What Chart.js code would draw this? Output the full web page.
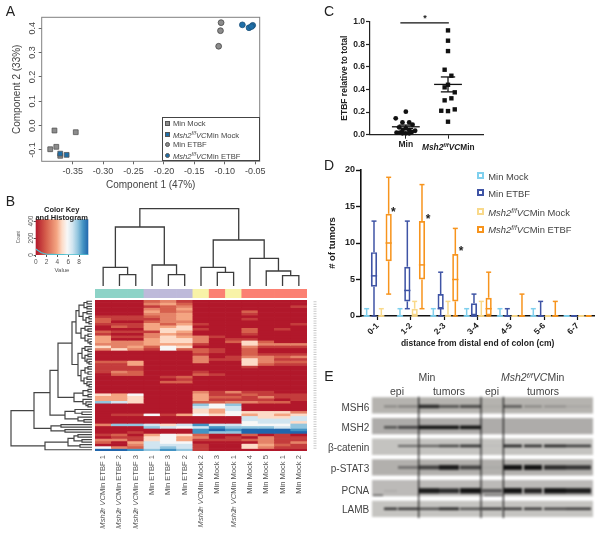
<!DOCTYPE html>
<html>
<head>
<meta charset="utf-8">
<script src="https://cdn.jsdelivr.net/npm/chart.js@4"></script>
<style>
  html, body { margin: 0; padding: 0; background: #fff; width: 602px; height: 537px; overflow: hidden; }
  canvas { position: absolute; filter: blur(0.3px); }
  .t { position: absolute; white-space: nowrap; font-family: "Liberation Sans", Arial, sans-serif; color: #444; filter: blur(0.25px); }
  .t sup { font-size: 0.7em; vertical-align: baseline; position: relative; top: -0.45em; line-height: 0; }
  .mark { position: absolute; box-sizing: border-box; }
</style>
</head>
<body>
<script>
// Panel A: PCA points, [component 1, component 2]
const minMockPoints = [[-0.38, -0.02], [-0.345, -0.027], [-0.377, -0.087], [-0.387, -0.097], [-0.3705, -0.124]]
const mshMockPoints = [[-0.3705, -0.115], [-0.36, -0.12]]
const minEtbfPoints = [[-0.106, 0.423], [-0.107, 0.39], [-0.11, 0.326]]
const mshEtbfPoints = [[-0.071, 0.414], [-0.06, 0.402], [-0.054, 0.412], [-0.056, 0.407]]
const pcaXTicks = [-0.35, -0.3, -0.25, -0.2, -0.15, -0.1, -0.05]
const pcaYTicks = [-0.1, 0, 0.1, 0.2, 0.3, 0.4]

// Panel B: heatmap and dendrograms
const sampleLabels = [
  "msh ETBF 1", "msh ETBF 2", "msh ETBF 3", "Min ETBF 1", "Min ETBF 3", "Min ETBF 2", "msh Mock 2",
  "Min Mock 3", "msh Mock 1", "Min Mock 4", "Min Mock 5", "Min Mock 1", "Min Mock 2",
]
const sampleGroupColors = [
  "#8dd3c7", "#8dd3c7", "#8dd3c7", "#bebada", "#bebada", "#bebada", "#f8f3a8",
  "#fb8072", "#f8f3a8", "#fb8072", "#fb8072", "#fb8072", "#fb8072",
]
const heatColors = ["#b2182b", "#c43c3c", "#d6604d", "#e58368", "#f4a582", "#fddbc7", "#f7f7f7", "#d1e5f0", "#92c5de", "#4393c3", "#2166ac"]
const heatRows = [
  [0, 0, 0, 2, 3, 1, 0, 0, 0, 0, 0, 0, 0],
  [0, 0, 0, 3, 4, 2, 0, 0, 0, 0, 0, 0, 0],
  [0, 0, 0, 1, 2, 3, 0, 0, 0, 0, 0, 0, 1],
  [0, 0, 0, 3, 2, 4, 0, 0, 0, 0, 0, 0, 0],
  [0, 0, 0, 4, 2, 3, 0, 0, 0, 2, 0, 0, 0],
  [0, 0, 0, 3, 3, 4, 0, 0, 0, 1, 0, 0, 0],
  [1, 1, 1, 2, 3, 4, 0, 0, 0, 0, 0, 0, 0],
  [2, 1, 1, 1, 3, 4, 0, 0, 0, 1, 0, 0, 0],
  [2, 0, 0, 2, 3, 3, 0, 0, 0, 0, 0, 0, 0],
  [1, 1, 1, 4, 2, 4, 1, 0, 0, 0, 0, 0, 1],
  [0, 2, 1, 4, 4, 5, 0, 0, 0, 0, 0, 0, 0],
  [0, 0, 0, 4, 5, 5, 1, 0, 0, 2, 0, 1, 0],
  [2, 1, 1, 1, 5, 4, 0, 0, 0, 2, 0, 0, 0],
  [1, 0, 0, 3, 4, 3, 0, 0, 0, 1, 0, 0, 0],
  [4, 1, 1, 3, 5, 4, 3, 1, 0, 0, 0, 0, 0],
  [4, 0, 0, 4, 5, 5, 3, 0, 1, 1, 0, 0, 0],
  [4, 3, 3, 4, 5, 5, 3, 0, 2, 5, 2, 0, 0],
  [3, 3, 3, 4, 4, 4, 1, 0, 0, 5, 3, 3, 3],
  [5, 3, 4, 2, 6, 5, 0, 0, 0, 3, 1, 1, 1],
  [3, 5, 3, 1, 6, 2, 2, 1, 0, 2, 0, 0, 0],
  [0, 0, 0, 0, 0, 0, 2, 1, 0, 2, 0, 0, 0],
  [0, 0, 0, 0, 0, 0, 1, 0, 0, 2, 1, 1, 1],
  [0, 0, 0, 0, 0, 0, 3, 0, 1, 3, 3, 2, 3],
  [0, 0, 0, 0, 0, 0, 3, 1, 1, 5, 3, 1, 1],
  [2, 2, 4, 0, 0, 0, 3, 0, 0, 5, 3, 2, 2],
  [1, 1, 4, 0, 0, 0, 0, 0, 0, 5, 2, 1, 1],
  [1, 1, 1, 0, 0, 0, 0, 0, 0, 1, 0, 0, 0],
  [1, 1, 1, 0, 0, 0, 0, 0, 0, 0, 0, 0, 0],
  [1, 3, 2, 0, 0, 0, 1, 0, 0, 0, 0, 0, 0],
  [0, 2, 2, 0, 0, 0, 2, 1, 0, 0, 0, 0, 0],
  [0, 0, 0, 0, 1, 2, 0, 0, 0, 0, 0, 0, 0],
  [0, 0, 0, 0, 0, 1, 0, 0, 0, 0, 0, 0, 0],
  [0, 0, 0, 0, 2, 2, 0, 0, 0, 0, 0, 0, 0],
  [0, 0, 0, 0, 0, 0, 0, 0, 0, 0, 0, 0, 0],
  [0, 0, 0, 0, 0, 0, 0, 0, 0, 0, 0, 0, 0],
  [0, 0, 0, 0, 0, 0, 0, 0, 0, 0, 0, 0, 0],
  [0, 0, 0, 0, 0, 0, 3, 1, 3, 1, 1, 0, 0],
  [5, 4, 6, 0, 0, 0, 4, 1, 1, 2, 1, 1, 1],
  [4, 4, 5, 0, 0, 0, 4, 2, 2, 1, 3, 1, 1],
  [4, 4, 5, 0, 0, 0, 4, 1, 1, 1, 1, 0, 1],
  [8, 7, 5, 0, 0, 0, 2, 2, 3, 3, 2, 2, 0],
  [0, 0, 0, 0, 0, 0, 8, 6, 8, 0, 0, 0, 0],
  [0, 0, 0, 0, 0, 0, 7, 6, 7, 0, 0, 0, 0],
  [0, 0, 0, 0, 0, 0, 5, 4, 7, 0, 0, 0, 0],
  [0, 0, 0, 0, 0, 0, 5, 4, 6, 5, 5, 5, 3],
  [0, 1, 1, 6, 1, 4, 6, 5, 6, 4, 5, 4, 5],
  [0, 0, 0, 0, 0, 0, 0, 0, 0, 7, 5, 5, 7],
  [0, 0, 0, 0, 0, 0, 0, 0, 0, 7, 7, 7, 7],
  [0, 0, 0, 0, 0, 0, 0, 0, 0, 6, 7, 7, 5],
  [3, 8, 8, 7, 5, 7, 9, 7, 7, 6, 6, 6, 8],
  [0, 0, 0, 8, 7, 6, 7, 9, 8, 8, 8, 7, 8],
  [0, 0, 0, 0, 0, 0, 9, 10, 9, 10, 10, 10, 9],
  [0, 0, 1, 0, 0, 0, 9, 8, 8, 10, 10, 10, 10],
  [1, 2, 0, 4, 6, 5, 2, 0, 0, 2, 0, 1, 0],
  [0, 1, 1, 5, 6, 4, 3, 0, 1, 0, 3, 1, 1],
  [3, 3, 1, 5, 6, 4, 1, 1, 1, 2, 3, 1, 1],
  [2, 0, 4, 7, 6, 6, 0, 0, 0, 0, 3, 1, 3],
  [0, 0, 3, 7, 7, 7, 1, 0, 0, 5, 4, 2, 1],
  [6, 3, 2, 7, 8, 7, 1, 0, 0, 5, 3, 1, 1],
  [10, 10, 9, 8, 9, 8, 1, 0, 0, 0, 0, 0, 0],
]
// [height, child, child], plain numbers are leaves
const columnTree = [77.3,
  [59, [18.7, 0, [11.3, 1, 2]], [21, 3, [11.3, 4, 5]]],
  [46, [18.7, 6, [13.7, 7, 8]], [27.7, 9, [15, 10, [10.3, 11, 12]]]],
]
const rowTree = [81,
  [58,
    [42,
      [34,
        [20,
          [16,
            [13, [8, [5, 0, 1], [5, 2, 3]], [9, [5, 4, 5], [6, [3, 6, 7], [3, 8, 9]]]],
            [11, [7, 10, [4, 11, 12]], [7, [4, 13, 14], [4, 15, [2, 16, 17]]]]],
          [14,
            [10, [7, 18, [4, 19, 20]], [7, [4, 21, 22], [5, 23, [3, 24, 25]]]],
            [11, [7, [4, 26, 27], [4, 28, 29]], [8, [5, 30, 31], [5, 32, [3, 33, 34]]]]]],
        [18, [9, [4, 35, 36], [4, 37, 38]], [9, 39, [6, 40, [4, 41, 42]]]]],
      [27, [17, 43, [10, 44, 45]], [14, 46, [8, 47, 48]]]],
    [41, [31, 49, 50], [27, 51, 52]]],
  [47, [24, [18, [14, 53, 54], [10, 55, 56]], [12, 57, 58]], 59],
]
const keyHistX = [0, 0.5, 1, 1.5, 2, 3, 4, 5, 6, 7, 8, 9, 9.7]
const keyHistY = [70, 50, 30, 18, 10, 7, 5, 4, 3, 2, 2, 1, 1]

// Panel C: ETBF relative to total
const cMinX = [1, 0.76, 0.92, 1.08, 1.16, 0.84, 1, 1.08, 0.92, 0.78, 0.86, 1.22, 1.14, 1, 1.08, 0.92]
const cMinY = [0.204, 0.145, 0.109, 0.109, 0.088, 0.065, 0.056, 0.04, 0.035, 0.018, 0.018, 0.035, 0.024, 0.012, 0.012, 0.012]
const cMshX = [2, 2, 2, 1.92, 2.08, 2, 1.92, 2.16, 2.08, 1.92, 1.84, 2, 2.16, 2]
const cMshY = [0.923, 0.832, 0.74, 0.575, 0.522, 0.442, 0.419, 0.375, 0.322, 0.304, 0.212, 0.209, 0.224, 0.115]
const cMeans = [0.07, 0.445]
const cErrors = [0.015, 0.066]

// Panel D: [low, q1, median, q3, high] per distance bin
const distanceBins = ["0-1", "1-2", "2-3", "3-4", "4-5", "5-6", "6-7"]
const dMinMock = [[0, 0, 0, 0, 1], [0, 0, 0, 0, 1], [0, 0, 0, 0, 1], [0, 0, 0, 0, 1], [0, 0, 0, 0, 1], [0, 0, 0, 0, 1], [0, 0, 0, 0, 0]]
const dMinEtbf = [[0, 4, 5.5, 8.75, 13], [1, 2, 3.5, 6.75, 13], [0, 1, 1, 3, 6], [0, 0, 0, 1.75, 3], [0, 0, 0, 0, 1], [0, 0, 0, 0, 2], [0, 0, 0, 0, 0]]
const dMshMock = [[0, 0, 0, 0, 1], [0, 0, 0, 1, 2], [0, 0, 0, 0.2, 2], [0, 0, 0, 0, 2], [0, 0, 0, 0, 0], [0, 0, 0, 0, 0], [0, 0, 0, 0, 0]]
const dMshEtbf = [[3, 7.5, 10, 14, 19], [1, 5, 7, 13, 18], [0, 2, 5, 8.5, 12], [0, 0, 1, 2.5, 6], [0, 0, 0, 0, 3], [0, 0, 0, 0, 2], [0, 0, 0, 0, 0]]

// Panel E: band strength per lane
const blotNames = ["MSH6", "MSH2", "β-catenin", "p-STAT3", "PCNA", "LAMB"]
const blotBackgrounds = ["#b5b3af", "#aeacaa", "#c4c3c0", "#b2b0ad", "#bcbab8", "#c5c4c1"]
const blotBandShift = [0.05, 0.06, -0.04, 0, 0.13, 0]
const blotBandThickness = [1.1, 1, 0.8, 1.4, 1.5, 0.8]
const laneStarts = [12, 26, 47, 67, 88, 110, 132, 152, 172, 194]
const laneEnds = [25, 46, 67, 87, 109, 130, 150, 170, 194, 219]
const blotBands = [
  [0.3, 0.35, 0.85, 0.6, 0.65, 0.08, 0.55, 0.3, 0.25, 0.1],
  [0.6, 0.7, 1, 1, 1, 0, 0, 0, 0, 0],
  [0, 0.55, 0.6, 0.75, 0.85, 0.05, 0.9, 0.85, 0.9, 0.8],
  [0, 0.4, 0.7, 0.95, 0.7, 0.05, 1, 1, 0.85, 0.8],
  [0.08, 0, 0.95, 0.85, 1, 0.6, 1, 0.9, 1, 0.95],
  [0.8, 0.8, 0.7, 0.9, 0.7, 0.8, 0.8, 0.8, 0.75, 0.8],
]
// [row, position within row, start, end, strength]
const blotExtraBands = [[4, 0.35, 1, 11, 0.6], [4, 0.35, 112, 130, 0.6]]
const blotDividers = [46.7, 109, 131.4]

const SANS = "'Liberation Sans', Arial, sans-serif"
Chart.defaults.font.family = SANS
Chart.defaults.animation = false
Chart.defaults.responsive = false
Chart.defaults.plugins.legend.display = false
Chart.defaults.plugins.tooltip.enabled = false

const addCanvas = (left, top, width, height, extra) => {
  const canvas = document.createElement("canvas")
  canvas.width = width
  canvas.height = height
  canvas.style.left = left + "px"
  canvas.style.top = top + "px"
  canvas.style.width = width + "px"
  canvas.style.height = height + "px"
  if (extra) canvas.style.filter = extra
  document.body.appendChild(canvas)
  return canvas
}

const addText = (html, x, y, css, anchor) => {
  const el = document.createElement("div")
  el.className = "t"
  el.innerHTML = html
  el.style.cssText = `left:${x}px;top:${y}px;${css || ""}`
  const shift = anchor === "left" ? "0" : anchor === "right" ? "-100%" : "-50%"
  el.style.transform = `translate(${shift},-50%)`
  document.body.appendChild(el)
  return el
}

const addMark = (x, y, size, css) => {
  const el = document.createElement("div")
  el.className = "mark"
  el.style.cssText = `left:${x - size / 2}px;top:${y - size / 2}px;width:${size}px;height:${size}px;${css}`
  document.body.appendChild(el)
}

const msh = '<i>Msh2</i><sup><i>f/f</i></sup><i>VC</i>Min'
const toPoints = (xs, ys) => xs.map((x, i) => ({ x, y: ys[i] }))
const pairs = (list) => list.map(([x, y]) => ({ x, y }))

// flatten a tree into bracket lines, gaps between brackets
const treeLines = (tree) => {
  const points = []
  const walk = (node) => {
    if (!Array.isArray(node)) return { pos: node, h: 0 }
    const [h, first, second] = node
    const a = walk(first)
    const b = walk(second)
    points.push([a.pos, a.h], [a.pos, h], [b.pos, h], [b.pos, b.h], [NaN, NaN])
    return { pos: (a.pos + b.pos) / 2, h }
  }
  walk(tree)
  return points
}

// ---------- Panel A ----------
const pcaBox = {
  id: "pcaBox",
  beforeDatasetsDraw: (chart) => {
    const { ctx, chartArea: a } = chart
    ctx.save()
    ctx.strokeStyle = "#808080"
    ctx.lineWidth = 1
    ctx.strokeRect(a.left, a.top, a.width, a.height)
    ctx.restore()
  },
}

new Chart(addCanvas(0, 0, 270, 192), {
  type: "scatter",
  data: {
    datasets: [
      { data: pairs(mshMockPoints), pointStyle: "rect", pointRadius: 3.4, backgroundColor: "#1f6fa8", borderColor: "#555", borderWidth: 0.8 },
      { data: pairs(minMockPoints), pointStyle: "rect", pointRadius: 3.4, backgroundColor: "#8c8c8c", borderColor: "#555", borderWidth: 0.8 },
      { data: pairs(minEtbfPoints), pointStyle: "circle", pointRadius: 2.9, backgroundColor: "#8c8c8c", borderColor: "#444", borderWidth: 0.8 },
      { data: pairs(mshEtbfPoints), pointStyle: "circle", pointRadius: 2.9, backgroundColor: "#1f6fa8", borderColor: "#1a4f78", borderWidth: 0.8 },
    ],
  },
  options: {
    layout: { padding: { top: 17.3, right: 10.3 } },
    scales: {
      x: {
        min: -0.401, max: -0.0425,
        afterBuildTicks: (s) => { s.ticks = pcaXTicks.map((value) => ({ value })) },
        afterFit: (s) => { s.height = 30.7 },
        grid: { drawOnChartArea: false, tickLength: 3, tickColor: "#666" },
        border: { display: false },
        ticks: { color: "#444", font: { size: 9 }, padding: 2, maxRotation: 0, callback: (v) => v.toFixed(2) },
        title: { display: true, text: "Component 1 (47%)", color: "#444", font: { size: 10 }, padding: { top: 0, bottom: 1 } },
      },
      y: {
        min: -0.1465, max: 0.445,
        afterBuildTicks: (s) => { s.ticks = pcaYTicks.map((value) => ({ value })) },
        afterFit: (s) => { s.width = 41.7 },
        grid: { drawOnChartArea: false, tickLength: 3, tickColor: "#666" },
        border: { display: false },
        ticks: { color: "#444", font: { size: 9 }, padding: -2, minRotation: 90, maxRotation: 90, crossAlign: "center", callback: (v) => v.toFixed(1) },
        title: { display: true, text: "Component 2 (33%)", color: "#444", font: { size: 10 }, padding: { top: 11, bottom: 0 } },
      },
    },
  },
  plugins: [pcaBox],
})

// legend of panel A
const legendA = document.createElement("div")
legendA.className = "mark"
legendA.style.cssText = "left:162.3px;top:117.3px;width:97.4px;height:44px;border:1px solid #444;background:#fff"
document.body.appendChild(legendA)
const legendRowsA = [
  [123, "Min Mock", "#8c8c8c", "0"],
  [134.7, msh + " Mock", "#1f6fa8", "0"],
  [144.3, "Min ETBF", "#8c8c8c", "50%"],
  [155.7, msh + " ETBF", "#1f6fa8", "50%"],
]
legendRowsA.forEach(([y, label, color, radius]) => {
  addMark(167.3, y, 5, `background:${color};border:0.7px solid #555;border-radius:${radius}`)
  addText(label, 173, y, "font-size:7.6px", "left")
})

// ---------- Panel B ----------
// colour key
const keyGradient = {
  id: "keyGradient",
  beforeDatasetsDraw: (chart) => {
    const { ctx, chartArea: a } = chart
    const gradient = ctx.createLinearGradient(a.left, 0, a.right, 0)
    heatColors.forEach((c, i) => gradient.addColorStop(i / (heatColors.length - 1), c))
    ctx.save()
    ctx.fillStyle = gradient
    ctx.fillRect(a.left, a.top, a.width, a.height)
    ctx.restore()
  },
}

new Chart(addCanvas(15, 212, 80, 66), {
  type: "scatter",
  data: {
    datasets: [{
      data: toPoints(keyHistX, keyHistY),
      showLine: true, pointRadius: 0, borderColor: "#4fc0d0", borderWidth: 1.2,
    }],
  },
  options: {
    layout: { padding: { top: 7.3, right: 6.7 } },
    scales: {
      x: {
        min: 0, max: 9.7,
        afterBuildTicks: (s) => { s.ticks = [0, 2, 4, 6, 8].map((value) => ({ value })) },
        afterFit: (s) => { s.height = 23 },
        grid: { drawOnChartArea: false, tickLength: 2, tickColor: "#555" },
        border: { display: false },
        ticks: { color: "#555", font: { size: 6.5 }, padding: 1, maxRotation: 0 },
        title: { display: true, text: "Value", color: "#555", font: { size: 6 }, padding: { top: 0, bottom: 4 } },
      },
      y: {
        min: 0, max: 420,
        afterBuildTicks: (s) => { s.ticks = [0, 100, 200, 300, 400].map((value) => ({ value })) },
        afterFit: (s) => { s.width = 20.7 },
        grid: { drawOnChartArea: false, tickLength: 2, tickColor: "#555" },
        border: { display: false },
        ticks: {
          color: "#555", font: { size: 6.5 }, padding: -3, minRotation: 90, maxRotation: 90, crossAlign: "center",
          callback: (v) => (v % 200 === 0 ? v : ""),
        },
        title: { display: true, text: "Count", color: "#555", font: { size: 4.5 }, padding: { top: 1, bottom: 0 } },
      },
    },
  },
  plugins: [keyGradient],
})
addText("Color Key", 61.7, 208.5, "font-size:7.5px;font-weight:bold;color:#222")
addText("and Histogram", 61.7, 216.7, "font-size:7.5px;font-weight:bold;color:#222")

// column dendrogram
new Chart(addCanvas(95, 206, 212, 80), {
  type: "scatter",
  data: {
    datasets: [{
      data: treeLines(columnTree).map(([pos, h]) => ({ x: pos, y: h })),
      showLine: true, spanGaps: false, pointRadius: 0, borderColor: "#3c3c3c", borderWidth: 1.3, clip: false,
    }],
  },
  options: { scales: { x: { display: false, min: -0.5, max: 12.5 }, y: { display: false, min: 0, max: 80 } } },
})

// sample group strip
new Chart(addCanvas(95, 289, 212, 9), {
  type: "bar",
  data: {
    labels: sampleLabels,
    datasets: [{ data: sampleLabels.map(() => 1), backgroundColor: sampleGroupColors, barPercentage: 1, categoryPercentage: 1 }],
  },
  options: { scales: { x: { display: false }, y: { display: false, min: 0, max: 1 } } },
})

// heatmap, one stacked dataset per row
new Chart(addCanvas(95, 300, 212, 151), {
  type: "bar",
  data: {
    labels: sampleLabels,
    datasets: heatRows.map((row) => ({
      data: row.map(() => 1),
      backgroundColor: row.map((level) => heatColors[level]),
      barPercentage: 1,
      categoryPercentage: 1,
      borderWidth: 0,
    })),
  },
  options: {
    scales: {
      x: { display: false, stacked: true },
      y: { display: false, stacked: true, min: 0, max: heatRows.length, reverse: true },
    },
  },
})

// row dendrogram
new Chart(addCanvas(5, 300, 87, 151), {
  type: "scatter",
  data: {
    datasets: [{
      data: treeLines(rowTree).map(([pos, h]) => ({ x: h, y: pos })),
      showLine: true, spanGaps: false, pointRadius: 0, borderColor: "#444", borderWidth: 1.2, clip: false,
    }],
  },
  options: {
    scales: {
      x: { display: false, min: 0, max: 87, reverse: true },
      y: { display: false, min: -0.5, max: heatRows.length - 0.5, reverse: true },
    },
  },
})

// faint row names column
new Chart(addCanvas(312, 300, 6, 151), {
  type: "scatter",
  data: {
    datasets: [{
      data: heatRows.map((_, i) => ({ x: 0, y: i })),
      showLine: true, pointRadius: 0, borderColor: "#c9c9c9", borderWidth: 3, borderDash: [1, 1.4],
    }],
  },
  options: {
    scales: {
      x: { display: false, min: -1, max: 1 },
      y: { display: false, min: -0.5, max: heatRows.length - 0.5, reverse: true },
    },
  },
})

// sample names, read bottom to top
sampleLabels.forEach((label, i) => {
  const el = document.createElement("div")
  el.className = "t"
  el.innerHTML = label.replace("msh", msh)
  el.style.cssText = `left:${95 + 16.31 * (i + 0.5) - 5}px;top:455px;width:10px;line-height:10px;font-size:7.6px;color:#555;writing-mode:vertical-rl;transform:rotate(180deg)`
  document.body.appendChild(el)
})

// ---------- Panel C ----------
const meanBars = {
  id: "meanBars",
  afterDatasetsDraw: (chart) => {
    const { ctx, scales: { x, y } } = chart
    ctx.save()
    ctx.strokeStyle = "#111"
    ctx.lineWidth = 1.3
    const line = (x1, y1, x2, y2) => {
      ctx.beginPath()
      ctx.moveTo(x.getPixelForValue(x1), y.getPixelForValue(y1))
      ctx.lineTo(x.getPixelForValue(x2), y.getPixelForValue(y2))
      ctx.stroke()
    }
    cMeans.forEach((mean, i) => {
      const c = i + 1
      line(c - 0.33, mean, c + 0.33, mean)
      line(c, mean - cErrors[i], c, mean + cErrors[i])
      line(c - 0.17, mean - cErrors[i], c + 0.17, mean - cErrors[i])
      line(c - 0.17, mean + cErrors[i], c + 0.17, mean + cErrors[i])
    })
    line(0.87, 0.99, 2.02, 0.99)
    ctx.restore()
  },
}

new Chart(addCanvas(328, 10, 160, 140), {
  type: "scatter",
  data: {
    datasets: [
      { data: toPoints(cMinX, cMinY), pointStyle: "circle", pointRadius: 2.4, backgroundColor: "#111", borderWidth: 0, clip: false },
      { data: toPoints(cMshX, cMshY), pointStyle: "rect", pointRadius: 3.1, backgroundColor: "#111", borderWidth: 0, clip: false },
    ],
  },
  options: {
    layout: { padding: { top: 11.7, right: 5 } },
    scales: {
      x: {
        min: 0.15, max: 2.83,
        afterBuildTicks: (s) => { s.ticks = [1, 2].map((value) => ({ value })) },
        afterFit: (s) => { s.height = 15.3 },
        grid: { drawOnChartArea: false, tickLength: 4, tickColor: "#222", tickWidth: 1 },
        border: { color: "#222", width: 1.2 },
        ticks: { color: "#222", font: { size: 8.5, weight: "bold" }, padding: 1, maxRotation: 0, callback: (v) => (v === 1 ? "Min" : "") },
      },
      y: {
        min: 0, max: 1,
        afterBuildTicks: (s) => { s.ticks = [0, 0.2, 0.4, 0.6, 0.8, 1].map((value) => ({ value })) },
        afterFit: (s) => { s.width = 42 },
        grid: { drawOnChartArea: false, tickLength: 4, tickColor: "#222", tickWidth: 1.2 },
        border: { color: "#222", width: 1.2 },
        ticks: { color: "#222", font: { size: 8.5, weight: "bold" }, padding: 1, callback: (v) => v.toFixed(1) },
        title: { display: true, text: "ETBF relative to total", color: "#222", font: { size: 8.5, weight: "bold" }, padding: { top: 12, bottom: 0 } },
      },
    },
  },
  plugins: [meanBars],
})
addText(msh, 448.3, 146.7, "font-size:8.3px;font-weight:bold;color:#222")
addText("*", 425, 17.5, "font-size:9px;font-weight:bold;color:#222")

// ---------- Panel D ----------
const boxSeries = [
  { label: "Min Mock", color: "#7fd0ee", stats: dMinMock },
  { label: "Min ETBF", color: "#3f54a5", stats: dMinEtbf },
  { label: msh + " Mock", color: "#f9d98a", stats: dMshMock },
  { label: msh + " ETBF", color: "#f7941d", stats: dMshEtbf },
]

const whiskers = {
  id: "whiskers",
  afterDatasetsDraw: (chart) => {
    const { ctx, scales: { y } } = chart
    boxSeries.forEach((series, d) => {
      const meta = chart.getDatasetMeta(d)
      ctx.save()
      ctx.strokeStyle = series.color
      ctx.lineWidth = 1.5
      series.stats.forEach(([low, q1, median, q3, high], i) => {
        const bar = meta.data[i]
        const half = bar.width / 2
        const seg = (x1, y1, x2, y2) => {
          ctx.beginPath()
          ctx.moveTo(x1, y1)
          ctx.lineTo(x2, y2)
          ctx.stroke()
        }
        seg(bar.x, y.getPixelForValue(q3), bar.x, y.getPixelForValue(high))
        seg(bar.x, y.getPixelForValue(q1), bar.x, y.getPixelForValue(low))
        seg(bar.x - half * 0.8, y.getPixelForValue(high), bar.x + half * 0.8, y.getPixelForValue(high))
        seg(bar.x - half * 0.8, y.getPixelForValue(low), bar.x + half * 0.8, y.getPixelForValue(low))
        seg(bar.x - half, y.getPixelForValue(median), bar.x + half, y.getPixelForValue(median))
      })
      ctx.restore()
    })
  },
}

new Chart(addCanvas(320, 160, 282, 190), {
  type: "bar",
  data: {
    labels: distanceBins,
    datasets: boxSeries.map((series) => ({
      data: series.stats.map(([, q1, , q3]) => [q1, q3]),
      backgroundColor: "rgba(0,0,0,0)",
      borderColor: series.color,
      borderWidth: 1.7,
      borderSkipped: false,
      barPercentage: 0.85,
      categoryPercentage: 0.88,
    })),
  },
  options: {
    layout: { padding: { top: 10, right: 7.7 } },
    scales: {
      x: {
        afterFit: (s) => { s.height = 34 },
        grid: { drawOnChartArea: false, offset: false, tickLength: 4, tickColor: "#111", tickWidth: 1.2 },
        border: { color: "#111", width: 1.6 },
        ticks: { color: "#222", font: { size: 8.5, weight: "bold" }, padding: 1, minRotation: 45, maxRotation: 45 },
        title: { display: true, text: "distance from distal end of colon (cm)", color: "#222", font: { size: 8.5, weight: "bold" }, padding: { top: 0, bottom: 1 } },
      },
      y: {
        min: 0, max: 20,
        afterBuildTicks: (s) => { s.ticks = [0, 5, 10, 15, 20].map((value) => ({ value })) },
        afterFit: (s) => { s.width = 41 },
        grid: { drawOnChartArea: false, tickLength: 5, tickColor: "#111", tickWidth: 1.4 },
        border: { color: "#111", width: 1.6 },
        ticks: { color: "#222", font: { size: 9, weight: "bold" }, padding: 1 },
        title: { display: true, text: "# of tumors", color: "#222", font: { size: 9.5, weight: "bold" }, padding: { top: 7, bottom: 0 } },
      },
    },
  },
  plugins: [whiskers],
})
const legendYsD = [175.7, 192.7, 211.7, 229.3]
boxSeries.forEach((series, i) => {
  addMark(480.7, legendYsD[i], 7.5, `border:2px solid ${series.color}`)
  addText(series.label, 488.3, legendYsD[i], "font-size:9.4px", "left")
})
addText("*", 393.3, 211.5, "font-size:12px;font-weight:bold;color:#222")
addText("*", 428, 219, "font-size:12px;font-weight:bold;color:#222")
addText("*", 461, 251, "font-size:12px;font-weight:bold;color:#222")

// ---------- Panel E ----------
const blotBackgroundSets = blotBackgrounds.map((color, row) => (
  { data: [{ x: 0, y: row }, { x: 221, y: row }], borderColor: color, borderWidth: 16.3, order: 3 }
))
const blotBandSets = []
blotBands.forEach((bands, row) => {
  bands.forEach((strength, lane) => {
    if (!strength) return
    const y = row + blotBandShift[row]
    blotBandSets.push({
      data: [{ x: laneStarts[lane], y }, { x: laneEnds[lane], y }],
      borderColor: `rgba(20,20,20,${strength})`,
      borderWidth: (1 + strength * 2.6) * blotBandThickness[row],
      order: 2,
    })
  })
})
blotExtraBands.forEach(([row, offset, start, end, strength]) => {
  blotBandSets.push({
    data: [{ x: start, y: row + offset }, { x: end, y: row + offset }],
    borderColor: `rgba(20,20,20,${strength})`,
    borderWidth: 1.4,
    order: 2,
  })
})
const blotDividerSets = blotDividers.map((x) => (
  { data: [{ x, y: -0.42 }, { x, y: 5.45 }], borderColor: "#111", borderWidth: 1.1, order: 1 }
))

new Chart(addCanvas(372, 393, 221, 128, "blur(0.8px)"), {
  type: "scatter",
  data: {
    datasets: [...blotBackgroundSets, ...blotBandSets, ...blotDividerSets]
      .map((d) => ({ ...d, showLine: true, pointRadius: 0, clip: false })),
  },
  options: {
    scales: {
      x: { display: false, min: 0, max: 221 },
      y: { display: false, min: -0.6, max: 5.59, reverse: true },
    },
  },
})

const blotLabelYs = [406.7, 427, 447, 468, 489.7, 508.7]
blotNames.forEach((name, i) => {
  addText(name, 369.3, blotLabelYs[i], "font-size:10px", "right")
})
addText("Min", 427, 377, "font-size:10.5px")
addText(msh, 532.7, 377, "font-size:10.5px")
addText("epi", 397, 391, "font-size:10.5px")
addText("tumors", 449, 391, "font-size:10.5px")
addText("epi", 492, 391, "font-size:10.5px")
addText("tumors", 543, 391, "font-size:10.5px")

// panel letters
const panelLetters = [["A", 10.5, 11], ["B", 10.5, 201], ["C", 329, 10.5], ["D", 329, 165], ["E", 329, 376]]
panelLetters.forEach(([letter, x, y]) => addText(letter, x, y, "font-size:14px;color:#222"))
</script>
</body>
</html>
